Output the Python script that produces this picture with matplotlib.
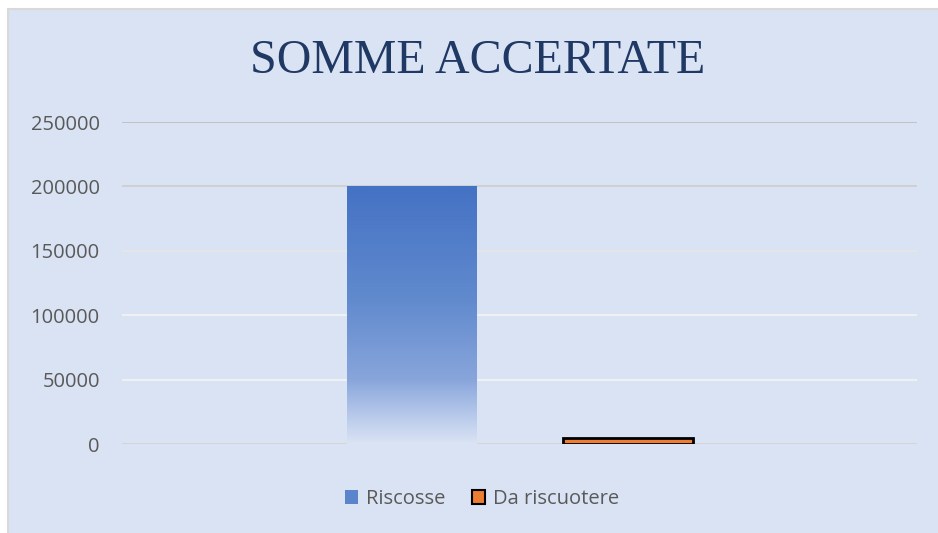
import numpy as np
import matplotlib.pyplot as plt
from matplotlib.colors import LinearSegmentedColormap
from matplotlib.patches import Rectangle, Patch

# Data
series = ["Riscosse", "Da riscuotere"]
values = [200000, 5000]
yticks = [0, 50000, 100000, 150000, 200000, 250000]

bg = "#DAE3F3"
text_col = "#595959"

fig = plt.figure(figsize=(9.38, 5.33), dpi=100)
fig.patch.set_facecolor("white")

# chart area, only its top and left border are inside the picture
fig.patches.append(Rectangle((8 / 938, -0.05), 1.0, 1 - 9 / 533 + 0.05,
                             transform=fig.transFigure, facecolor=bg,
                             edgecolor="#D9D9D9", linewidth=1.5, zorder=-1))

ax = fig.add_axes([122 / 938, 89 / 533, 795 / 938, 322 / 533])
ax.set_facecolor("none")

# gridlines (lighter in the lower part, like the original)
grid_cols = ["#D6D3CF", "#F2F2F2", "#F2F2F2", "#E6E6E6", "#CFCFCF", "#BFBFBF"]
for t, c in zip(yticks, grid_cols):
    ax.axhline(t, color=c, linewidth=1.3, zorder=1)

offsets = [-0.272, 0.273]
width = 0.325

# gradient blue bar
cmap = LinearSegmentedColormap.from_list(
    "fade", [(0.0, bg), (0.12, "#B4C7EA"), (0.25, "#88A5DB"),
             (0.55, "#628BCE"), (1.0, "#4472C4")])
x0 = offsets[0] - width / 2
grad = np.linspace(0, 1, 256).reshape(-1, 1)
im = ax.imshow(grad, cmap=cmap, aspect="auto", origin="lower",
               extent=[x0, x0 + width, 0, values[0]], zorder=2)
clip = Rectangle((x0, 0), width, values[0], transform=ax.transData,
                 facecolor="none", edgecolor="none")
ax.add_patch(clip)
im.set_clip_path(clip)
ax.set_xlim(-1, 1)
ax.set_ylim(0, 250000)

# orange bar with black edge
ax.bar(offsets[1], values[1], width=width, color="#ED7D31",
       edgecolor="black", linewidth=2, zorder=3)

ax.set_yticks(yticks)
ax.set_yticklabels([str(t) for t in yticks], fontsize=14.5, color=text_col,
                   family="Open Sans")
ax.tick_params(axis="y", length=0, pad=16)
ax.set_xticks([])
for s in ax.spines.values():
    s.set_visible(False)

fig.text(478 / 938, 1 - 61 / 533, "SOMME ACCERTATE", ha="center", va="center",
         fontsize=34.5, color="#1F3864", family="Liberation Serif")

handles = [Patch(facecolor="#5B84CC", edgecolor="none"),
           Patch(facecolor="#ED7D31", edgecolor="black", linewidth=1.5)]
leg = fig.legend(handles, series, loc="center", bbox_to_anchor=(482 / 938, 1 - 499 / 533),
                 ncol=2, frameon=False, handlelength=0.65, handleheight=0.65,
                 handletextpad=0.4, columnspacing=1.3,
                 prop={"family": "Open Sans", "size": 14.5})
for t in leg.get_texts():
    t.set_color(text_col)

fig.savefig("out.png", dpi=100)
